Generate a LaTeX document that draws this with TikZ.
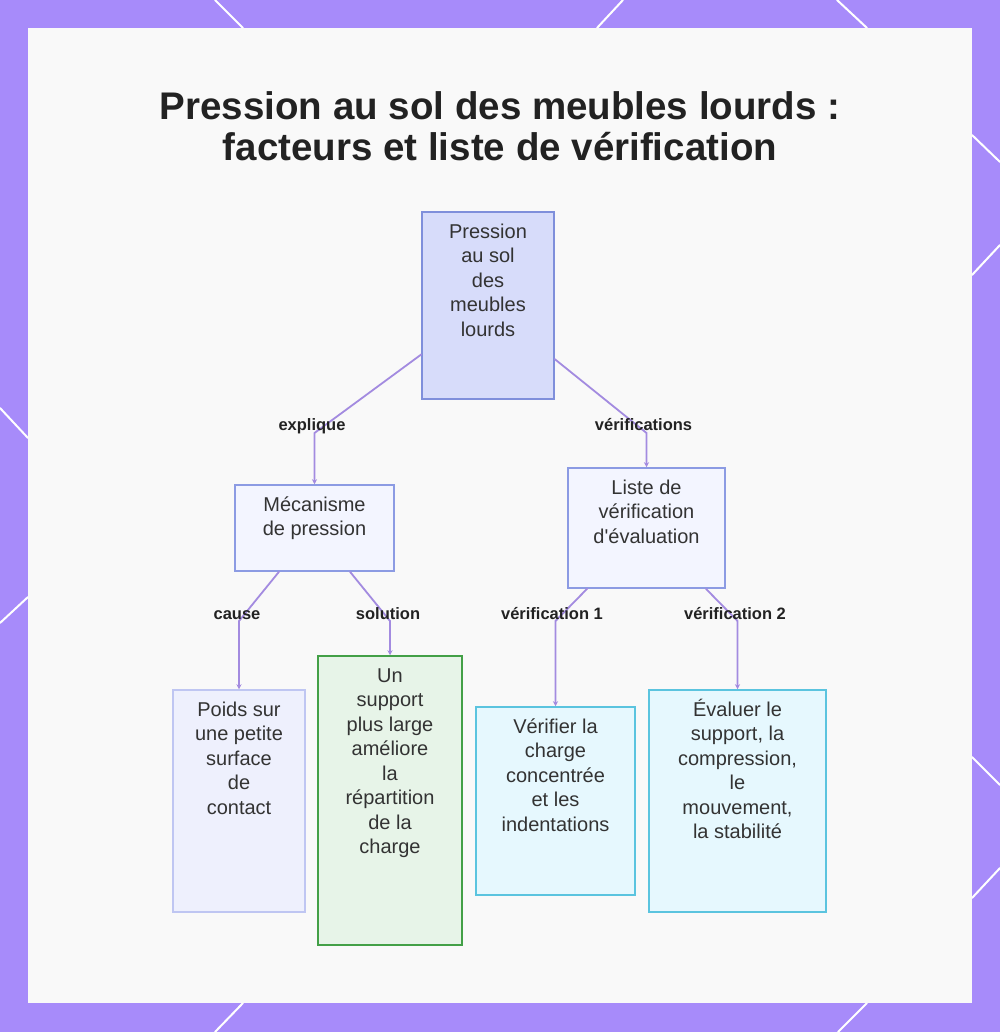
\documentclass[tikz,border=0pt]{standalone}
\usepackage{fontspec}
\setmainfont{Liberation Sans}
\usetikzlibrary{arrows.meta}
\definecolor{framepurple}{HTML}{A78BFA}
\definecolor{panelgray}{HTML}{F9F9F9}
\definecolor{edgepurple}{HTML}{A38BE0}
\definecolor{txtgray}{HTML}{333333}
\newcommand{\boxtxt}[3]{\parbox[c][#2][t]{#1}{\centering\rule{0pt}{26pt}#3}}

\begin{document}
\begin{tikzpicture}[x=1pt,y=-1pt,line cap=round,
    box/.style={draw,line width=1.5pt,inner sep=0pt,text=txtgray,font=\fontsize{20}{24.5}\selectfont},
    rootbox/.style={box,draw={rgb,255:red,127;green,143;blue,219},fill={rgb,255:red,215;green,220;blue,250}},
    midbox/.style={box,draw={rgb,255:red,140;green,155;blue,227},fill={rgb,255:red,243;green,245;blue,255}},
    causebox/.style={box,draw={rgb,255:red,191;green,198;blue,242},fill={rgb,255:red,238;green,240;blue,253}},
    solbox/.style={box,draw={rgb,255:red,67;green,160;blue,71},fill={rgb,255:red,231;green,244;blue,232}},
    checkbox/.style={box,draw={rgb,255:red,91;green,196;blue,223},fill={rgb,255:red,230;green,248;blue,254}},
    lbl/.style={anchor=base,inner sep=0pt,text={rgb,255:red,34;green,34;blue,34},font=\bfseries\fontsize{16.5}{18}\selectfont},
    edge/.style={draw=edgepurple,line width=1.8pt,-{Stealth[length=5pt,width=5pt]}},
    hexline/.style={white,line width=2pt}]
    \useasboundingbox (0,0) rectangle (1000,1032);
    \fill[framepurple] (0,0) rectangle (1000,1032);
    \draw[hexline] (215,0) -- (243,28);
    \draw[hexline] (623,0) -- (597,28);
    \draw[hexline] (837,0) -- (867,28);
    \draw[hexline] (972,135) -- (1000,162);
    \draw[hexline] (1000,245) -- (972,275);
    \draw[hexline] (972,757) -- (1000,785);
    \draw[hexline] (972,898) -- (1000,868);
    \draw[hexline] (0,408) -- (28,438);
    \draw[hexline] (28,597) -- (0,623);
    \draw[hexline] (243,1003) -- (215,1032);
    \draw[hexline] (867,1003) -- (838,1032);
    \fill[panelgray] (28,28) rectangle (972,1003);

    \node[anchor=base,text={rgb,255:red,34;green,34;blue,34},font=\bfseries\fontsize{38.5}{41}\selectfont] (title1) at (500,120) {Pression au sol des meubles lourds :};
    \node[anchor=base,text={rgb,255:red,34;green,34;blue,34},font=\bfseries\fontsize{38.5}{41}\selectfont] (title2) at (500,161) {facteurs et liste de vérification};

    \node[rootbox] (pression) at (488,305.5) {\boxtxt{132pt}{187pt}{Pression\\au sol\\des\\meubles\\lourds}};
    \node[midbox] (mecanisme) at (314.5,528) {\boxtxt{159pt}{86pt}{Mécanisme\\de pression}};
    \node[midbox] (liste) at (646.5,528) {\boxtxt{157pt}{120pt}{Liste de\\vérification\\d\textquotesingle évaluation}};
    \node[causebox] (poids) at (239,801) {\boxtxt{132pt}{222pt}{Poids sur\\une petite\\surface\\de\\contact}};
    \node[solbox] (support) at (390,800.5) {\boxtxt{144pt}{289pt}{Un\\support\\plus large\\améliore\\la\\répartition\\de la\\charge}};
    \node[checkbox] (verifier) at (555.5,801) {\boxtxt{159pt}{188pt}{Vérifier la\\charge\\concentrée\\et les\\indentations}};
    \node[checkbox] (evaluer) at (737.5,801) {\boxtxt{177pt}{222pt}{Évaluer le\\support, la\\compression,\\le\\mouvement,\\la stabilité}};

    \coordinate (bexplique) at (314.5,433);
    \coordinate (bverifs) at (646.5,433);
    \coordinate (bcause) at (239,621);
    \coordinate (bsolution) at (390,621);
    \coordinate (bverif1) at (555.5,621);
    \coordinate (bverif2) at (737.5,621);
    \draw[edge] (pression) -- (bexplique) -- (mecanisme);
    \draw[edge] (pression) -- (bverifs) -- (liste);
    \draw[edge] (mecanisme) -- (bcause) -- (poids);
    \draw[edge] (mecanisme) -- (bsolution) -- (support);
    \draw[edge] (liste) -- (bverif1) -- (verifier);
    \draw[edge] (liste) -- (bverif2) -- (evaluer);

    \node[lbl] (lexplique) at (312,430) {explique};
    \node[lbl] (lverifs) at (643.5,430) {vérifications};
    \node[lbl] (lcause) at (237,619) {cause};
    \node[lbl] (lsolution) at (388,619) {solution};
    \node[lbl] (lverif1) at (552,619) {vérification 1};
    \node[lbl] (lverif2) at (735,619) {vérification 2};
\end{tikzpicture}
\end{document}
